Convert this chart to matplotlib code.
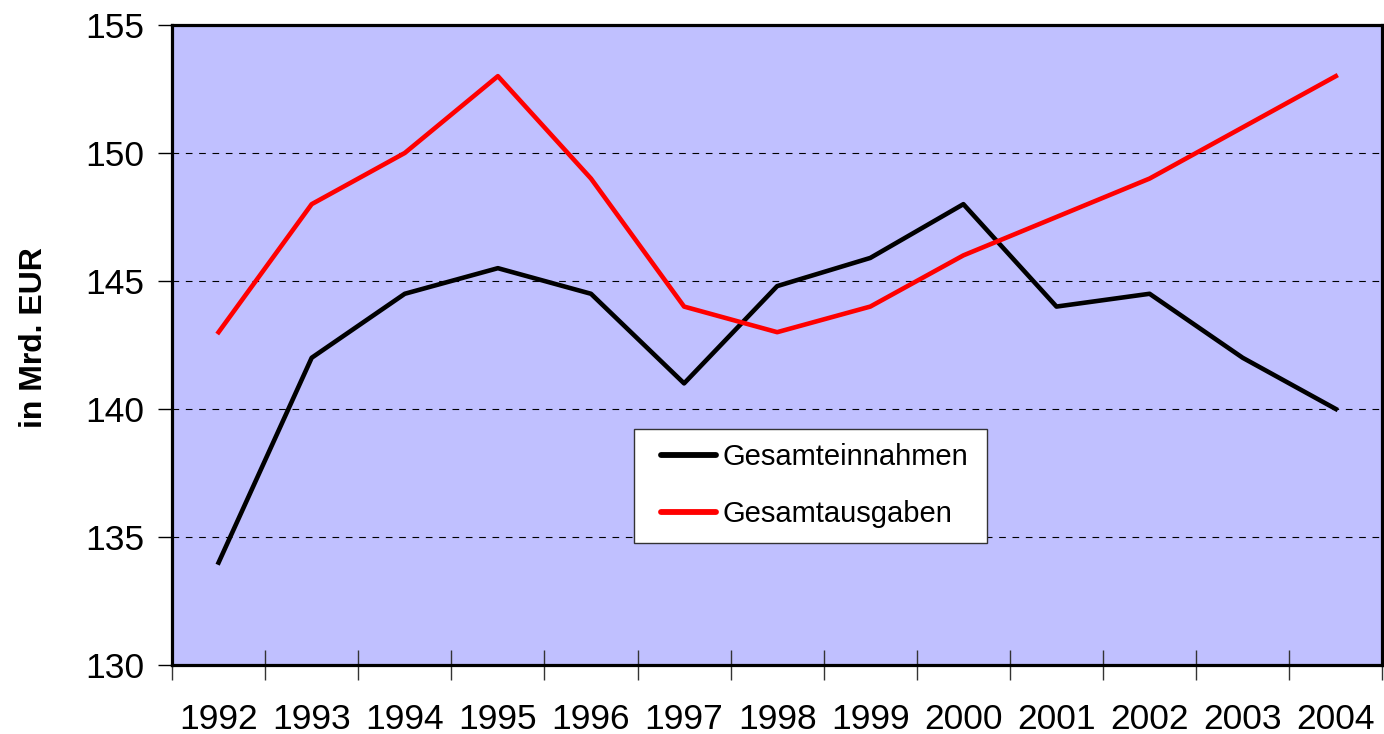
import matplotlib
matplotlib.use("Agg")
import matplotlib.pyplot as plt
from matplotlib.legend_handler import HandlerLine2D
import numpy as np

years = ["1992", "1993", "1994", "1995", "1996", "1997", "1998",
         "1999", "2000", "2001", "2002", "2003", "2004"]
einnahmen = [134.0, 142.0, 144.5, 145.5, 144.5, 141.0, 144.8,
             145.9, 148.0, 144.0, 144.5, 142.0, 140.0]
ausgaben = [143.0, 148.0, 150.0, 153.0, 149.0, 144.0, 143.0,
            144.0, 146.0, 147.5, 149.0, 151.0, 153.0]

plt.rcParams['font.family'] = ['Liberation Sans', 'DejaVu Sans']

fig = plt.figure(figsize=(13.84, 7.34), dpi=100)
ax = fig.add_axes([0.1243, 0.094, 0.8745, 0.872])
ax.set_facecolor('#C0C0FF')

x = np.arange(len(years))
l1, = ax.plot(x, einnahmen, color='black', lw=3.3, label='Gesamteinnahmen', zorder=3)
l2, = ax.plot(x, ausgaben, color='#FF0000', lw=3.3, label='Gesamtausgaben', zorder=3)

ax.set_xlim(-0.5, len(years) - 0.5)
ax.set_ylim(130, 155)
ax.set_yticks([130, 135, 140, 145, 150, 155])
ax.tick_params(axis='y', labelsize=25.5, length=10, width=1, direction='out', pad=10)

ax.set_xticks(np.arange(-0.5, len(years), 1.0))
ax.set_xticklabels([])
ax.set_xticks(x, minor=True)
ax.set_xticklabels(years, minor=True)
ax.tick_params(axis='x', which='major', direction='inout', length=22, width=1, color='#333333')
ax.tick_params(axis='x', which='minor', length=0, labelsize=25.5, pad=27)

for y in [135, 140, 145, 150]:
    ax.axhline(y, color='black', lw=0.8, ls=(0, (6, 6)), zorder=1)

for s in ax.spines.values():
    s.set_linewidth(2.3)
    s.set_color('black')

ax.set_ylabel('in Mrd. EUR', fontsize=23, fontweight='bold', labelpad=26)
ax.yaxis.label.set_y(0.512)

hm = {l1: HandlerLine2D(xpad=0.43), l2: HandlerLine2D(xpad=0.43)}
leg = ax.legend(loc='upper left', bbox_to_anchor=(0.382, 0.0, 0.291, 0.369),
                mode='expand', fontsize=21, frameon=True, fancybox=False,
                edgecolor='#333333', framealpha=1, handlelength=2.31,
                borderpad=0.5, labelspacing=0.98, handletextpad=0.2,
                borderaxespad=0, handler_map=hm)
leg.get_frame().set_linewidth(1)
for h in leg.get_lines():
    h.set_linewidth(4.2)
    h.set_solid_capstyle('round')

fig.savefig('out.png', dpi=100, facecolor='white')
